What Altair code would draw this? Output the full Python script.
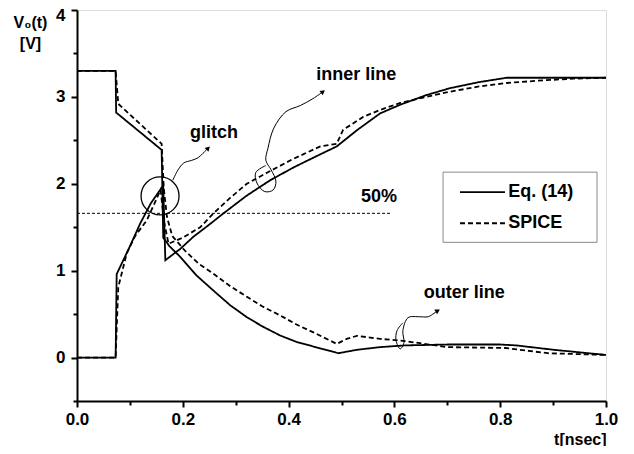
import altair as alt
import pandas as pd

# ---- data ----
eq_outer_t = [0, 0.073, 0.074, 0.160, 0.163, 0.175, 0.195, 0.225, 0.258, 0.29, 0.321, 0.35, 0.384, 0.415, 0.447, 0.494, 0.53, 0.573, 0.62, 0.70, 0.80, 0.83, 0.90, 1.0]
eq_outer_v = [3.30, 3.30, 2.82, 2.39, 1.38, 1.28, 1.16, 0.95, 0.77, 0.60, 0.465, 0.36, 0.254, 0.18, 0.127, 0.05, 0.09, 0.12, 0.14, 0.15, 0.15, 0.14, 0.09, 0.03]

eq_inner_t = [0, 0.073, 0.075, 0.10, 0.12, 0.14, 0.163, 0.167, 0.195, 0.22, 0.25, 0.277, 0.32, 0.365, 0.41, 0.45, 0.491, 0.53, 0.573, 0.611, 0.66, 0.705, 0.76, 0.812, 0.90, 1.0]
eq_inner_v = [0, 0, 0.96, 1.28, 1.55, 1.78, 1.98, 1.12, 1.25, 1.39, 1.53, 1.66, 1.86, 2.04, 2.19, 2.31, 2.43, 2.62, 2.81, 2.91, 3.02, 3.10, 3.17, 3.22, 3.22, 3.22]

sp_outer_t = [0, 0.073, 0.078, 0.160, 0.164, 0.170, 0.18, 0.204, 0.23, 0.258, 0.29, 0.321, 0.35, 0.384, 0.415, 0.447, 0.491, 0.51, 0.529, 0.573, 0.62, 0.70, 0.81, 0.89, 1.0]
sp_outer_v = [3.30, 3.30, 2.92, 2.46, 1.95, 1.62, 1.40, 1.23, 1.08, 0.965, 0.82, 0.70, 0.59, 0.485, 0.38, 0.29, 0.157, 0.215, 0.25, 0.215, 0.19, 0.12, 0.11, 0.05, 0.03]

sp_inner_t = [0, 0.073, 0.078, 0.094, 0.11, 0.132, 0.158, 0.165, 0.173, 0.20, 0.233, 0.258, 0.29, 0.321, 0.36, 0.41, 0.46, 0.491, 0.503, 0.541, 0.573, 0.611, 0.66, 0.705, 0.76, 0.812, 0.88, 0.938, 1.0]
sp_inner_v = [0, 0, 0.81, 1.20, 1.40, 1.58, 1.93, 1.55, 1.31, 1.38, 1.50, 1.66, 1.84, 2.00, 2.13, 2.29, 2.43, 2.46, 2.62, 2.77, 2.85, 2.93, 3.00, 3.06, 3.12, 3.16, 3.19, 3.21, 3.22]

methods = ["Eq. (14)", "SPICE"]

half_t = [0.0, 0.595]
half_v = [1.66, 1.66]

x_major = [0.0, 0.2, 0.4, 0.6, 0.8, 1.0]
x_minor = [0.1, 0.3, 0.5, 0.7, 0.9]
y_major = [0, 1, 2, 3, 4]
y_minor = [-0.5, 0.5, 1.5, 2.5, 3.5]

labels_text = ["glitch", "inner line", "outer line", "50%"]
labels_t = [0.259, 0.528, 0.732, 0.571]
labels_v = [2.58, 3.25, 0.74, 1.85]

circle_t = [0.157]
circle_v = [1.86]

glitch_arrow_t = [0.181, 0.191, 0.202, 0.217, 0.229, 0.238, 0.248]
glitch_arrow_v = [2.04, 2.16, 2.24, 2.27, 2.30, 2.35, 2.41]
inner_arrow_t = [0.357, 0.338, 0.340, 0.355, 0.371, 0.376, 0.367, 0.357, 0.361, 0.372, 0.395, 0.422, 0.446, 0.465]
inner_arrow_v = [2.21, 2.13, 2.01, 1.91, 1.93, 2.03, 2.16, 2.27, 2.41, 2.64, 2.83, 2.90, 2.98, 3.06]
outer_arrow_t = [0.616, 0.605, 0.603, 0.611, 0.618, 0.616, 0.626, 0.645, 0.664, 0.675, 0.682]
outer_arrow_v = [0.40, 0.31, 0.20, 0.10, 0.17, 0.31, 0.46, 0.47, 0.47, 0.51, 0.54]
head_t = [0.248, 0.465, 0.682]
head_v = [2.41, 3.06, 0.54]
head_angle = [45, 53, 60]

# legend box (data units) and entries
legend_box_t = [0.692, 0.983]
legend_box_v = [2.134, 1.326]
legend_sym_t = [0.724, 0.809]
legend_row_v = [1.903, 1.546]
legend_label_t = 0.815

# ---- tables ----
rows = []
for ts, vs, m, c in [(eq_outer_t, eq_outer_v, methods[0], "eo"),
                     (eq_inner_t, eq_inner_v, methods[0], "ei"),
                     (sp_outer_t, sp_outer_v, methods[1], "so"),
                     (sp_inner_t, sp_inner_v, methods[1], "si")]:
    for i, (t, v) in enumerate(zip(ts, vs)):
        rows.append({"t": t, "v": v, "method": m, "curve": c, "i": i})
df = pd.DataFrame(rows)

arows = []
for ts, vs, c in [(glitch_arrow_t, glitch_arrow_v, "g"),
                  (inner_arrow_t, inner_arrow_v, "in"),
                  (outer_arrow_t, outer_arrow_v, "out")]:
    for i, (t, v) in enumerate(zip(ts, vs)):
        arows.append({"t": t, "v": v, "id": c, "i": i})
adf = pd.DataFrame(arows)

half_df = pd.DataFrame({"t": half_t, "v": half_v})
lab_df = pd.DataFrame({"t": labels_t, "v": labels_v, "txt": labels_text})
circ_df = pd.DataFrame({"t": circle_t, "v": circle_v})
head_df = pd.DataFrame({"t": head_t, "v": head_v, "a": head_angle})

box_df = pd.DataFrame({"t": [legend_box_t[0]], "t2": [legend_box_t[1]],
                       "v": [legend_box_v[0]], "v2": [legend_box_v[1]]})
leg_rows = []
for m, rv in zip(methods, legend_row_v):
    for i, t in enumerate(legend_sym_t):
        leg_rows.append({"t": t, "v": rv, "method": m, "i": i})
leg_df = pd.DataFrame(leg_rows)
leg_txt_df = pd.DataFrame({"t": [legend_label_t] * 2, "v": legend_row_v, "txt": methods})

FONT = "Liberation Sans"
xs = alt.Scale(domain=[0, 1], nice=False, zero=False)
ys = alt.Scale(domain=[-0.5, 4], nice=False, zero=False)
dash_scale = alt.Scale(domain=methods, range=[[1, 0], [5, 3]])

common_axis = dict(labelFontSize=17, labelFontWeight="bold", labelFont=FONT, labelColor="black",
                   tickSize=6, tickWidth=2, tickColor="black", domainWidth=2, domainColor="black",
                   grid=False, labelFlush=False)

xaxis = alt.Axis(values=x_major, format=".1f", orient="bottom", labelPadding=4,
                 title="t[nsec]", titleAnchor="end", titleAlign="right", titleX=529, titleY=43,
                 titleBaseline="alphabetic", titleFontSize=16, titleFontWeight="bold", titleFont=FONT,
                 titleColor="black", **common_axis)
yaxis = alt.Axis(values=y_major, format="d", orient="left", labelPadding=6,
                 labelOffset={"condition": {"test": "datum.value == 4", "value": 5}, "value": 0},
                 title=["V₀(t)", "[V]"], titleAngle=0, titleAlign="center", titleX=-47, titleY=17,
                 titleBaseline="alphabetic", titleFontSize=16, titleFontWeight="bold", titleFont=FONT,
                 titleColor="black", titleLineHeight=21, **common_axis)

xminor = alt.Axis(values=x_minor, orient="bottom", labels=False, domain=False, tickSize=4, tickWidth=2,
                  tickColor="black", title=None, grid=False)
yminor = alt.Axis(values=y_minor, orient="left", labels=False, domain=False, tickSize=4, tickWidth=2,
                  tickColor="black", title=None, grid=False)

X = lambda: alt.X("t:Q", scale=xs, axis=None)
Y = lambda: alt.Y("v:Q", scale=ys, axis=None)

lines = alt.Chart(df).mark_line(color="black", strokeWidth=1.8).encode(
    x=alt.X("t:Q", scale=xs, axis=xaxis),
    y=alt.Y("v:Q", scale=ys, axis=yaxis),
    strokeDash=alt.StrokeDash("method:N", scale=dash_scale, legend=None),
    detail="curve:N",
    order="i:Q",
)

half = alt.Chart(half_df).mark_line(color="black", strokeWidth=1, strokeDash=[3, 2]).encode(
    x=alt.X("t:Q", scale=xs, axis=xminor),
    y=alt.Y("v:Q", scale=ys, axis=yminor),
)

texts = alt.Chart(lab_df).mark_text(font=FONT, fontSize=18, fontWeight="bold", color="black",
                                    align="center", baseline="middle").encode(
    x=X(), y=Y(), text="txt:N",
)

circ = alt.Chart(circ_df).mark_point(shape="circle", filled=False, size=1444, color="black",
                                     strokeWidth=1.3, opacity=1).encode(x=X(), y=Y())

arrows = alt.Chart(adf).mark_line(color="black", strokeWidth=1, interpolate="catmull-rom").encode(
    x=X(), y=Y(), detail="id:N", order="i:Q",
)

heads = alt.Chart(head_df).mark_point(shape="triangle-up", filled=True, size=30, color="black",
                                      opacity=1).encode(
    x=X(), y=Y(), angle=alt.Angle("a:Q", scale=None),
)

box = alt.Chart(box_df).mark_rect(fill="white", stroke="#888888", strokeWidth=1).encode(
    x=alt.X("t:Q", scale=xs, axis=None), x2="t2:Q",
    y=alt.Y("v:Q", scale=ys, axis=None), y2="v2:Q",
)

leg_lines = alt.Chart(leg_df).mark_line(color="black", strokeWidth=1.8).encode(
    x=X(), y=Y(),
    strokeDash=alt.StrokeDash("method:N", scale=dash_scale, legend=None),
    detail="method:N", order="i:Q",
)

leg_text = alt.Chart(leg_txt_df).mark_text(font=FONT, fontSize=18, fontWeight="bold", color="black",
                                           align="left", baseline="middle").encode(
    x=X(), y=Y(), text="txt:N",
)

chart = alt.layer(lines, half, texts, circ, arrows, heads, box, leg_lines, leg_text).resolve_axis(
    x="independent", y="independent"
).properties(
    width=529, height=391,
    autosize=alt.AutoSizeParams(type="none"),
    padding={"left": 69, "top": 2, "right": 20, "bottom": 45},
).configure_view(stroke="black", strokeWidth=2).configure(font=FONT, background="white")

chart.save("out.html", embed_options={"renderer": "svg", "actions": False})
